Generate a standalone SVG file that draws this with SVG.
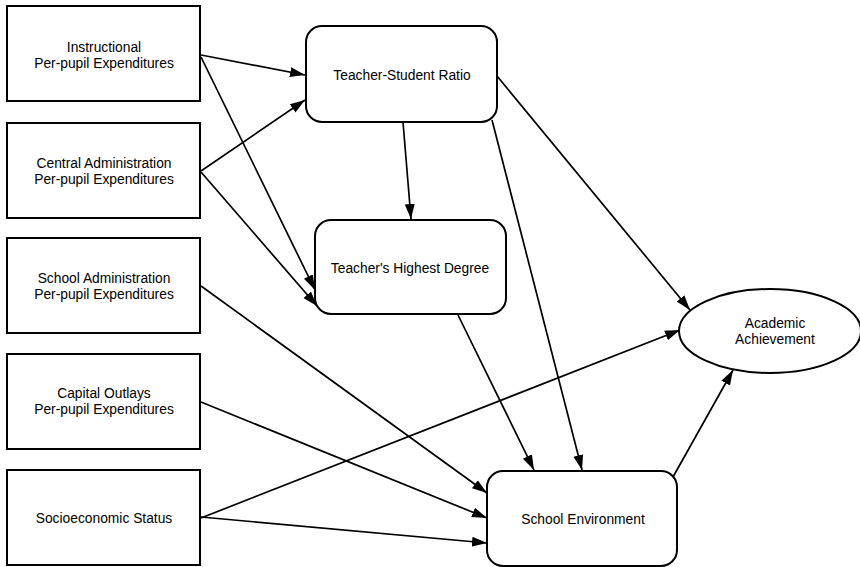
<svg xmlns="http://www.w3.org/2000/svg" width="860" height="567" viewBox="0 0 860 567">
<style>
.box{fill:#fff;stroke:#000;stroke-width:2}
.t{font-family:"Liberation Sans",Arial,sans-serif;font-size:13.8px;fill:#000;text-anchor:middle}
.c line{stroke:#000;stroke-width:1.7;marker-end:url(#ah)}
</style>
<defs>
<marker id="ah" markerUnits="userSpaceOnUse" markerWidth="16" markerHeight="12" refX="15" refY="5" orient="auto" viewBox="0 0 16 10">
<path d="M0,0 L15,5 L0,10 z" fill="#000"/>
</marker>
</defs>
<rect width="860" height="567" fill="#fff"/>
<g class="c" id="connectors">
<line x1="201" y1="55" x2="305" y2="75"/>
<line x1="201" y1="57" x2="315" y2="290"/>
<line x1="201" y1="171" x2="305" y2="100"/>
<line x1="201" y1="172" x2="317" y2="306"/>
<line x1="403" y1="122" x2="411" y2="219"/>
<line x1="492" y1="120" x2="582" y2="470"/>
<line x1="497" y1="76" x2="690" y2="310"/>
<line x1="458" y1="315" x2="534" y2="470"/>
<line x1="201" y1="286" x2="487" y2="493"/>
<line x1="201" y1="402" x2="487" y2="518"/>
<line x1="201" y1="517" x2="487" y2="543"/>
<line x1="201" y1="518" x2="680" y2="330"/>
<line x1="673" y1="477" x2="733" y2="370"/>
</g>
<g id="n1"><rect class="box" x="7" y="6" width="193" height="95"/>
<text class="t" x="104" y="52">Instructional</text><text class="t" x="104" y="68">Per-pupil Expenditures</text></g>
<g id="n2"><rect class="box" x="7" y="123" width="193" height="95"/>
<text class="t" x="104" y="168">Central Administration</text><text class="t" x="104" y="184">Per-pupil Expenditures</text></g>
<g id="n3"><rect class="box" x="7" y="238" width="193" height="95"/>
<text class="t" x="104" y="283">School Administration</text><text class="t" x="104" y="299">Per-pupil Expenditures</text></g>
<g id="n4"><rect class="box" x="7" y="354" width="193" height="95"/>
<text class="t" x="104" y="398">Capital Outlays</text><text class="t" x="104" y="414">Per-pupil Expenditures</text></g>
<g id="n5"><rect class="box" x="7" y="470" width="193" height="95"/>
<text class="t" x="104" y="523">Socioeconomic Status</text></g>
<g id="n6"><rect class="box" x="306" y="26" width="191" height="96" rx="16" ry="16"/>
<text class="t" x="402" y="80">Teacher-Student Ratio</text></g>
<g id="n7"><rect class="box" x="315" y="220" width="191" height="94" rx="16" ry="16"/>
<text class="t" x="410" y="273">Teacher's Highest Degree</text></g>
<g id="n8"><rect class="box" x="487" y="471" width="190" height="95" rx="16" ry="16"/>
<text class="t" x="583" y="524">School Environment</text></g>
<g id="n9"><ellipse class="box" cx="770" cy="331" rx="91" ry="42"/>
<text class="t" x="775" y="328">Academic</text><text class="t" x="775" y="344">Achievement</text></g>
</svg>
